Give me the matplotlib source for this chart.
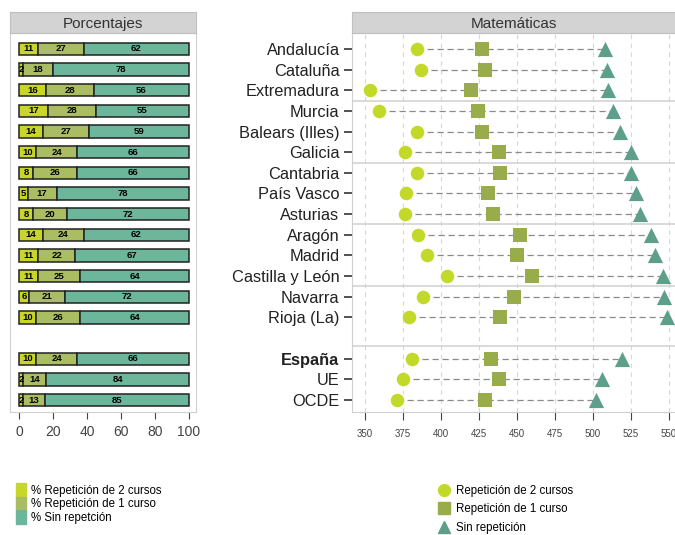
import numpy as np
import matplotlib.pyplot as plt
from matplotlib.patches import Rectangle
from matplotlib.lines import Line2D

plt.rcParams['font.family'] = ['Liberation Sans', 'DejaVu Sans']

# Data
regions = ["Andalucía", "Cataluña", "Extremadura", "Murcia", "Balears (Illes)",
           "Galicia", "Cantabria", "País Vasco", "Asturias", "Aragón", "Madrid",
           "Castilla y León", "Navarra", "Rioja (La)", "España", "UE", "OCDE"]
pct_rep2 = [11, 2, 16, 17, 14, 10, 8, 5, 8, 14, 11, 11, 6, 10, 10, 2, 2]
pct_rep1 = [27, 18, 28, 28, 27, 24, 26, 17, 20, 24, 22, 25, 21, 26, 24, 14, 13]
pct_sin = [62, 80, 56, 55, 59, 66, 66, 78, 72, 62, 67, 64, 73, 64, 66, 84, 85]
pct_sin_lbl = [62, 78, 56, 55, 59, 66, 66, 78, 72, 62, 67, 64, 72, 64, 66, 84, 85]

mat_rep2 = [384, 387, 353, 359, 384, 376, 384, 377, 376, 385, 391, 404, 388, 379, 381, 375, 371]
mat_rep1 = [427, 429, 420, 424, 427, 438, 439, 431, 434, 452, 450, 460, 448, 439, 433, 438, 429]
mat_sin = [508, 509, 510, 513, 518, 525, 525, 528, 531, 538, 541, 546, 547, 549, 519, 506, 502]

rows = list(range(14)) + [15, 16, 17]
separators = [2.5, 5.5, 8.5, 11.5, 14.4]

c_rep2 = "#c8d62a"
c_rep1 = "#abbd62"
c_sin = "#6cb69c"
m_rep2 = "#c3d92a"
m_rep1 = "#98ac4c"
m_sin = "#5d9f8b"

W, H = 675, 535
fig = plt.figure(figsize=(6.75, 5.35), dpi=100)


def box(x0, y0, x1, y1):
    return [x0 / W, 1 - y1 / H, (x1 - x0) / W, (y1 - y0) / H]


ylim = (17.58, -0.77)

# Left panel: stacked percentage bars
axl = fig.add_axes(box(10, 33, 196, 412))
axl.barh(rows, pct_rep2, height=0.6, color=c_rep2, edgecolor="#222222", linewidth=1.1)
axl.barh(rows, pct_rep1, left=pct_rep2, height=0.6, color=c_rep1,
         edgecolor="#222222", linewidth=1.1)
left2 = np.array(pct_rep2) + np.array(pct_rep1)
axl.barh(rows, pct_sin, left=left2, height=0.6, color=c_sin,
         edgecolor="#222222", linewidth=1.1)
for y, a, b, c in zip(rows, pct_rep2, pct_rep1, pct_sin_lbl):
    axl.text(max(a / 2, 1.2), y, str(a), ha="center", va="center",
             fontsize=6.8, fontweight="bold")
    axl.text(a + b / 2, y, str(b), ha="center", va="center",
             fontsize=6.8, fontweight="bold")
    axl.text(a + b + (100 - a - b) / 2, y, str(c), ha="center", va="center",
             fontsize=6.8, fontweight="bold")
axl.set_xlim(-5.4, 104.2)
axl.set_ylim(*ylim)
axl.set_yticks([])
axl.set_xticks([0, 20, 40, 60, 80, 100])
axl.tick_params(axis="x", labelsize=10, colors="#444444", length=5, pad=4)
for s in axl.spines.values():
    s.set_color("#d0d0d0")

# Right panel: scores
axr = fig.add_axes(box(352, 33, 676, 412))
for y, a, c in zip(rows, mat_rep2, mat_sin):
    axr.plot([a, c], [y, y], color="#8a8a8a", linestyle=(0, (5, 3)), linewidth=0.9, zorder=2)
axr.scatter(mat_rep2, rows, marker="o", s=95, color=m_rep2, zorder=3, linewidths=0)
axr.scatter(mat_rep1, rows, marker="s", s=90, color=m_rep1, zorder=3, linewidths=0)
axr.scatter(mat_sin, rows, marker="^", s=120, color=m_sin, zorder=3, linewidths=0)
for s in separators:
    axr.axhline(s, color="#cfcfcf", linewidth=1.1, zorder=1)
xt = [350, 375, 400, 425, 450, 475, 500, 525, 550]
for x in xt:
    axr.axvline(x, color="#d8d8d8", linestyle=(0, (4, 4)), linewidth=0.8, zorder=0)
axr.set_xlim(341.4, 554.6)
axr.set_ylim(*ylim)
axr.set_xticks(xt)
axr.tick_params(axis="x", labelsize=7, colors="#444444", length=6, pad=6)
axr.set_yticks(rows)
axr.set_yticklabels(regions, fontsize=11.8, color="#222222")
axr.tick_params(axis="y", length=6, width=1.2, color="#333333", pad=3)
axr.get_yticklabels()[14].set_fontweight("bold")
for s in axr.spines.values():
    s.set_color("#d0d0d0")

# Panel headers
for x0, x1, title in [(10, 196, "Porcentajes"), (352, 676, "Matemáticas")]:
    hx = fig.add_axes(box(x0, 12, x1, 33))
    hx.set_facecolor("#d3d3d3")
    hx.set_xticks([])
    hx.set_yticks([])
    for s in hx.spines.values():
        s.set_color("#c0c0c0")
    hx.text(0.5, 0.45, title, ha="center", va="center", fontsize=11, color="#333333",
            transform=hx.transAxes)

# Legends
lh = [Rectangle((0, 0), 1, 1, color=c) for c in [c_rep2, c_rep1, c_sin]]
fig.legend(lh, ["% Repetición de 2 cursos", "% Repetición de 1 curso", "% Sin repetción"],
           loc="upper left", bbox_to_anchor=(16 / W, 1 - 483 / H), frameon=False,
           fontsize=8.3, handlelength=0.9, handleheight=1.45, handletextpad=0.4,
           labelspacing=0.0, borderaxespad=0, borderpad=0)
rh = [Line2D([], [], marker=m, linestyle="none", color=c, markersize=8.5)
      for m, c in [("o", m_rep2), ("s", m_rep1), ("^", m_sin)]]
fig.legend(rh, ["Repetición de 2 cursos", "Repetición de 1 curso", "Sin repetición"],
           loc="upper left", bbox_to_anchor=(438 / W, 1 - 485 / H), frameon=False,
           fontsize=8.3, handlelength=1.0, handletextpad=0.6, labelspacing=0.55,
           borderaxespad=0, borderpad=0)

fig.savefig("out.png", dpi=100)
